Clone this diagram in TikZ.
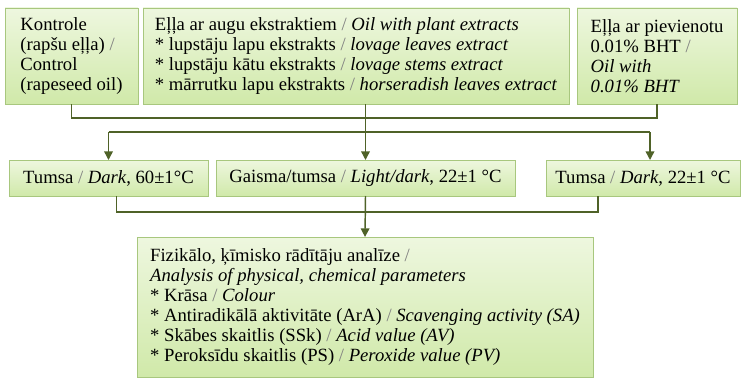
\documentclass[tikz,border=0pt]{standalone}
\usepackage{fontspec}
\setmainfont{Liberation Serif}
\usepackage{xcolor}
\usetikzlibrary{positioning, arrows.meta, calc, shadows}

\definecolor{boxtop}{HTML}{EEF7DF}
\definecolor{boxbot}{HTML}{D0E9A9}
\definecolor{boxedge}{HTML}{A8C77E}
\definecolor{flowline}{HTML}{4F6228}
\newcommand{\gsl}{{\color{black!50}/}}

\begin{document}
\begin{tikzpicture}[x=0.75pt, y=-0.75pt,
  box/.style={draw=boxedge, line width=0.6pt, top color=boxtop, bottom color=boxbot,
    drop shadow={shadow xshift=0.7pt, shadow yshift=-0.9pt, opacity=0.25},
    align=left, inner sep=0pt, outer sep=0pt, font=\fontsize{14}{15}\selectfont},
  flow/.style={draw=flowline, line width=1.1pt},
  arr/.style={flow, -{Triangle[length=6.5pt,width=6.5pt]}}]
\useasboundingbox (0,0) rectangle (741,378);

% Samples
\node[box, minimum width=99.75pt, minimum height=72pt] (ctrl) at (71.5,56)
  {Kontrole\\(rapšu eļļa) \gsl\\Control\\(rapeseed oil)};
\node[box, minimum width=319.5pt, minimum height=72pt] (plant) at (356,56)
  {Eļļa ar augu ekstraktiem \gsl{} \textit{Oil with plant extracts}\\
   * lupstāju lapu ekstrakts \gsl{} \textit{lovage leaves extract}\\
   * lupstāju kātu ekstrakts \gsl{} \textit{lovage stems extract}\\
   * mārrutku lapu ekstrakts \gsl{} \textit{horseradish leaves extract}};
\node[box, minimum width=120pt, minimum height=72pt] (bht) at (657,56)
  {Eļļa ar pievienotu\\0.01\% BHT \gsl\\\textit{Oil with}\\\textit{0.01\% BHT}};

% Storage conditions
\node[box, minimum width=149.25pt, minimum height=27pt] (dark60) at (108.5,178)
  {Tumsa \gsl{} \textit{Dark}, 60±1°C};
\node[box, minimum width=224.25pt, minimum height=27pt] (light) at (365.5,178)
  {Gaisma/tumsa \gsl{} \textit{Light/dark}, 22±1 °C};
\node[box, minimum width=145.5pt, minimum height=27pt] (dark22) at (643,178)
  {Tumsa \gsl{} \textit{Dark}, 22±1 °C};

% Analysis
\node[box, minimum width=342pt, minimum height=105pt] (result) at (365,307)
  {Fizikālo, ķīmisko rādītāju analīze \gsl\\
   \textit{Analysis of physical, chemical parameters}\\
   * Krāsa \gsl{} \textit{Colour}\\
   * Antiradikālā aktivitāte (ArA) \gsl{} \textit{Scavenging activity (SA)}\\
   * Skābes skaitlis (SSk) \gsl{} \textit{Acid value (AV)}\\
   * Peroksīdu skaitlis (PS) \gsl{} \textit{Peroxide value (PV)}};

% Connector levels
\coordinate (join1) at (0,118);
\coordinate (split2) at (0,132);
\coordinate (join3) at (0,212);
\coordinate (dark22in) at ($(dark22.north)+(7,0)$);
\coordinate (dark60out) at ($(dark60.south)+(8,0)$);
\coordinate (dark22out) at ($(dark22.south)+(-45,0)$);

% Samples to storage
\draw[flow] (ctrl.south) |- (join1 -| bht.south) -- (bht.south);
\draw[flow] (split2 -| dark60.north) -- (split2 -| dark22in);
\draw[arr] (split2 -| dark60.north) -- (dark60.north);
\draw[arr] (split2 -| dark22in) -- (dark22in);
\draw[arr] (plant.south -| light.north) -- (light.north);

% Storage to analysis
\draw[flow] (dark60out) |- (join3 -| dark22out) -- (dark22out);
\draw[arr] (light.south) -- (result.north);

\end{tikzpicture}
\end{document}
